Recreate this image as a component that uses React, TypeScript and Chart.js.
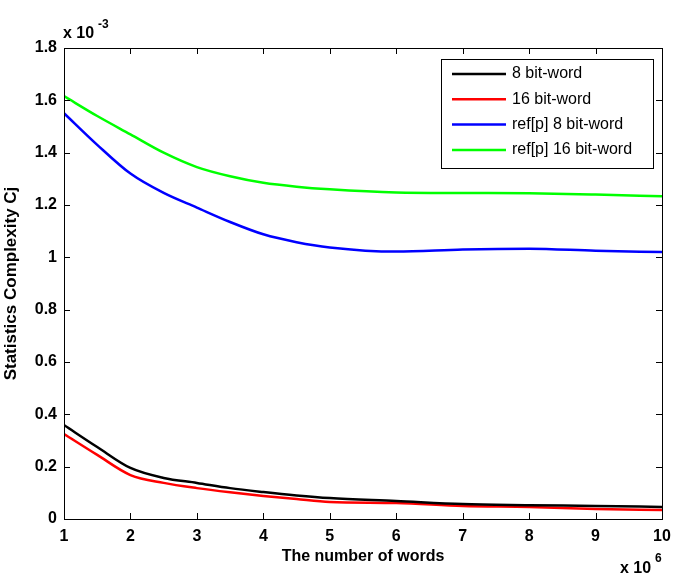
import React, { useEffect, useRef } from "react";
import { Chart, registerables } from "chart.js";

Chart.register(...registerables);

const xValues = [1, 1.5, 2, 2.5, 3, 3.5, 4, 4.5, 5, 6, 7, 8, 9, 10];
const black8 = [0.359, 0.275, 0.195, 0.157, 0.138, 0.118, 0.103, 0.09, 0.08, 0.069, 0.057, 0.053, 0.05, 0.046];
const red16 = [0.325, 0.245, 0.168, 0.138, 0.118, 0.102, 0.088, 0.076, 0.065, 0.061, 0.05, 0.046, 0.038, 0.034];
const blueRef8 = [1.551, 1.43, 1.32, 1.246, 1.19, 1.135, 1.088, 1.058, 1.038, 1.022, 1.03, 1.033, 1.025, 1.02];
const greenRef16 = [1.616, 1.54, 1.47, 1.4, 1.345, 1.31, 1.285, 1.27, 1.26, 1.248, 1.246, 1.245, 1.24, 1.233];

const seriesNames = ["8 bit-word", "16 bit-word", "ref[p] 8 bit-word", "ref[p] 16 bit-word"];
const seriesColors = ["#000000", "#ff0000", "#0000ff", "#00ff00"];
const seriesValues = [black8, red16, blueRef8, greenRef16];

const xTicks = [1, 2, 3, 4, 5, 6, 7, 8, 9, 10];
const yTicks = [0, 0.2, 0.4, 0.6, 0.8, 1, 1.2, 1.4, 1.6, 1.8];
const xTitle = "The number of words";
const yTitle = "Statistics Complexity Cj";

const FONT = "'Liberation Sans', Arial, sans-serif";

const decorPlugin = {
  id: "decor",
  afterDraw(chart: any) {
    const ctx = chart.ctx;
    const a = chart.chartArea;
    const xs = chart.scales.x;
    const ys = chart.scales.y;
    ctx.save();
    // box
    ctx.strokeStyle = "#000";
    ctx.lineWidth = 1;
    ctx.strokeRect(Math.round(a.left) + 0.5, Math.round(a.top) + 0.5, Math.round(a.right - a.left), Math.round(a.bottom - a.top));
    // ticks inward
    const tl = 6;
    ctx.beginPath();
    xTicks.forEach((t) => {
      const px = Math.round(xs.getPixelForValue(t)) + 0.5;
      ctx.moveTo(px, a.bottom);
      ctx.lineTo(px, a.bottom - tl);
      ctx.moveTo(px, a.top);
      ctx.lineTo(px, a.top + tl);
    });
    yTicks.forEach((t) => {
      const py = Math.round(ys.getPixelForValue(t)) + 0.5;
      ctx.moveTo(a.left, py);
      ctx.lineTo(a.left + tl, py);
      ctx.moveTo(a.right, py);
      ctx.lineTo(a.right - tl, py);
    });
    ctx.stroke();
    // tick labels
    ctx.fillStyle = "#000";
    ctx.font = `bold 16px ${FONT}`;
    ctx.textAlign = "center";
    ctx.textBaseline = "middle";
    xTicks.forEach((t) => {
      ctx.fillText(String(t), xs.getPixelForValue(t), a.bottom + 18);
    });
    ctx.textAlign = "right";
    yTicks.forEach((t) => {
      ctx.fillText(String(Math.round(t * 10) / 10), a.left - 7, ys.getPixelForValue(t));
    });
    // exponents
    ctx.textAlign = "left";
    ctx.textBaseline = "alphabetic";
    ctx.font = `bold 16px ${FONT}`;
    ctx.fillText("x 10", a.left - 1, a.top - 10);
    ctx.font = `bold 12px ${FONT}`;
    ctx.fillText("-3", a.left + 34, a.top - 20);
    ctx.font = `bold 16px ${FONT}`;
    ctx.fillText("x 10", a.right - 42, a.bottom + 54);
    ctx.font = `bold 12px ${FONT}`;
    ctx.fillText("6", a.right - 7, a.bottom + 43);
    // axis titles
    ctx.font = `bold 16px ${FONT}`;
    ctx.textAlign = "center";
    ctx.textBaseline = "middle";
    ctx.fillText(xTitle, (a.left + a.right) / 2, a.bottom + 38);
    ctx.save();
    ctx.translate(11, (a.top + a.bottom) / 2);
    ctx.rotate(-Math.PI / 2);
    ctx.font = `bold 17px ${FONT}`;
    ctx.fillText(yTitle, 0, 0);
    ctx.restore();
    // legend
    const lx = 441, ly = 59, lw = 212, lh = 109;
    ctx.fillStyle = "#fff";
    ctx.fillRect(lx, ly, lw, lh);
    ctx.strokeStyle = "#000";
    ctx.lineWidth = 1;
    ctx.strokeRect(lx + 0.5, ly + 0.5, lw, lh);
    ctx.font = `16px ${FONT}`;
    ctx.textAlign = "left";
    ctx.textBaseline = "middle";
    seriesNames.forEach((n, i) => {
      const yy = 74 + i * 25.3;
      ctx.strokeStyle = seriesColors[i];
      ctx.lineWidth = 2.5;
      ctx.beginPath();
      ctx.moveTo(452, yy);
      ctx.lineTo(506, yy);
      ctx.stroke();
      ctx.fillStyle = "#000";
      ctx.fillText(n, 512, yy);
    });
    ctx.restore();
  },
};

export default function App() {
  const ref = useRef<HTMLCanvasElement | null>(null);
  useEffect(() => {
    if (!ref.current) return;
    const chart = new Chart(ref.current, {
      type: "line",
      data: {
        datasets: seriesNames.map((n, i) => ({
          label: n,
          data: xValues.map((x, j) => ({ x, y: seriesValues[i][j] })),
          borderColor: seriesColors[i],
          backgroundColor: seriesColors[i],
          borderWidth: 2.5,
          pointRadius: 0,
          cubicInterpolationMode: "monotone" as const,
          fill: false,
        })),
      },
      options: {
        animation: false,
        responsive: false,
        maintainAspectRatio: false,
        layout: { padding: { left: 14, top: 48, right: 13, bottom: 19 } },
        plugins: { legend: { display: false }, tooltip: { enabled: false } },
        scales: {
          x: {
            type: "linear",
            min: 1,
            max: 10,
            grid: { display: false },
            border: { display: false },
            ticks: { display: false },
            afterFit: (s: any) => { s.height = 40; },
          },
          y: {
            type: "linear",
            min: 0,
            max: 1.8,
            grid: { display: false },
            border: { display: false },
            ticks: { display: false },
            afterFit: (s: any) => { s.width = 50; },
          },
        },
      },
      plugins: [decorPlugin],
    });
    return () => chart.destroy();
  }, []);
  return (
    <div style={{ position: "fixed", left: 0, top: 0, width: 675, height: 578, background: "#fff" }}>
      <canvas ref={ref} width={675} height={578} style={{ width: 675, height: 578 }} />
    </div>
  );
}
